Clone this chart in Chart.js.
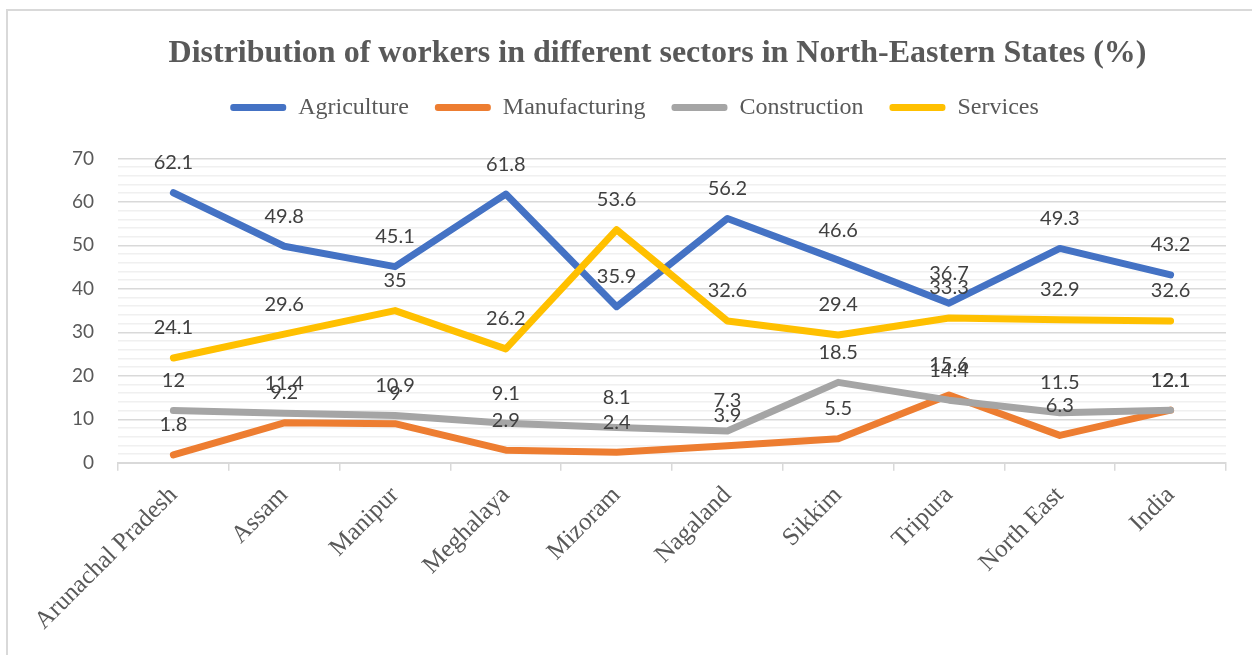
<!DOCTYPE html>
<html>
<head>
<meta charset="utf-8">
<title>Distribution of workers in North-Eastern States</title>
<script src="https://cdn.jsdelivr.net/npm/chart.js@4.4.1/dist/chart.umd.min.js"></script>
<style>
    html, body { margin: 0; padding: 0; background: #ffffff; overflow: hidden; }
    canvas { display: block; }
</style>
</head>
<body>
<canvas id="sectorChart" width="1252" height="655"></canvas>
<script>
        // Categories and series values
        const states = ['Arunachal Pradesh', 'Assam', 'Manipur', 'Meghalaya', 'Mizoram', 'Nagaland', 'Sikkim', 'Tripura', 'North East', 'India'];
        const agriculture = [62.1, 49.8, 45.1, 61.8, 35.9, 56.2, 46.6, 36.7, 49.3, 43.2];
        const manufacturing = [1.8, 9.2, 9, 2.9, 2.4, 3.9, 5.5, 15.6, 6.3, 12.1];
        const construction = [12, 11.4, 10.9, 9.1, 8.1, 7.3, 18.5, 14.4, 11.5, 12.1];
        const services = [24.1, 29.6, 35, 26.2, 53.6, 32.6, 29.4, 33.3, 32.9, 32.6];

        const yMin = 0;
        const yMax = 70;
        const yStep = 2;
        const yLabelStep = 10;

        const serif = "'Liberation Serif', 'Times New Roman', serif";
        const sans = "Lato, 'Noto Sans', sans-serif";

        // shift a box's drawing sideways without touching the layout
        function nudge(box, dx) {
            const draw = box.draw.bind(box);
            box.draw = function() {
                this.ctx.save();
                this.ctx.translate(dx, 0);
                draw();
                this.ctx.restore();
            };
        }

        // Outer frame like the Office chart border
        const framePlugin = {
            id: 'frame',
            beforeInit(chart) {
                const legend = chart.legend;
                if (legend) {
                    // leave more room under the legend
                    const fit = legend.fit.bind(legend);
                    legend.fit = function() {
                        fit();
                        this.height += 29;
                    };
                    nudge(legend, 18);
                }
                if (chart.titleBlock) nudge(chart.titleBlock, 41);
            },
            beforeDraw(chart) {
                const c = chart.ctx;
                c.save();
                c.strokeStyle = '#d9d9d9';
                c.lineWidth = 2;
                c.beginPath();
                c.moveTo(7, 656);
                c.lineTo(7, 10);
                c.lineTo(1253, 10);
                c.stroke();
                c.restore();
            }
        };

        // Value labels above every point
        const valueLabels = {
            id: 'valueLabels',
            afterDatasetsDraw(chart) {
                const c = chart.ctx;
                c.save();
                c.font = '20px ' + sans;
                c.fillStyle = '#404040';
                c.textAlign = 'center';
                c.textBaseline = 'middle';
                chart.data.datasets.forEach(function(ds, i) {
                    const meta = chart.getDatasetMeta(i);
                    meta.data.forEach(function(pt, j) {
                        c.fillText(String(ds.data[j]), pt.x, pt.y - 30);
                    });
                });
                c.restore();
            }
        };

        function series(label, data, color, order) {
            return {
                label: label,
                data: data,
                borderColor: color,
                backgroundColor: color,
                borderWidth: 7,
                borderCapStyle: 'round',
                borderJoinStyle: 'round',
                pointRadius: 0,
                pointHoverRadius: 0,
                tension: 0,
                order: order
            };
        }

        const ctx = document.getElementById('sectorChart').getContext('2d');
        const sectorChart = new Chart(ctx, {
            type: 'line',
            data: {
                labels: states,
                datasets: [
                    series('Agriculture', agriculture, '#4472c4', 3),
                    series('Manufacturing', manufacturing, '#ed7d31', 2),
                    series('Construction', construction, '#a5a5a5', 1),
                    series('Services', services, '#ffc000', 0)
                ]
            },
            options: {
                responsive: false,
                animation: false,
                devicePixelRatio: 1,
                layout: {
                    padding: { left: 7, right: 26, top: 0, bottom: 9 }
                },
                plugins: {
                    tooltip: { enabled: false },
                    title: {
                        display: true,
                        text: 'Distribution of workers in different sectors in North-Eastern States (%)',
                        color: '#595959',
                        font: { family: serif, size: 32, weight: 'bold' },
                        padding: { top: 35, bottom: -4 }
                    },
                    legend: {
                        position: 'top',
                        labels: {
                            color: '#595959',
                            font: { family: serif, size: 24 },
                            boxWidth: 56,
                            boxHeight: 7,
                            useBorderRadius: true,
                            borderRadius: 3,
                            padding: 26,
                            generateLabels: function(chart) {
                                const items = Chart.defaults.plugins.legend.labels.generateLabels(chart);
                                items.forEach(function(it) { it.lineWidth = 0; });
                                return items.sort(function(a, b) { return a.datasetIndex - b.datasetIndex; });
                            }
                        }
                    }
                },
                scales: {
                    x: {
                        offset: true,
                        grid: {
                            offset: true,
                            drawOnChartArea: false,
                            color: '#d9d9d9',
                            lineWidth: 1.5,
                            tickLength: 8
                        },
                        border: { color: '#d9d9d9', width: 2 },
                        ticks: {
                            color: '#595959',
                            font: { family: serif, size: 25 },
                            minRotation: 45,
                            maxRotation: 45,
                            padding: 10,
                            autoSkip: false
                        }
                    },
                    y: {
                        min: yMin,
                        max: yMax,
                        border: { display: false },
                        grid: {
                            drawTicks: false,
                            lineWidth: 1.5,
                            color: function(c) {
                                return c.tick && c.tick.value % yLabelStep === 0 ? '#d9d9d9' : '#f0f0f0';
                            }
                        },
                        ticks: {
                            stepSize: yStep,
                            autoSkip: false,
                            padding: 24,
                            color: '#595959',
                            font: { family: sans, size: 19 },
                            callback: function(value) {
                                return value % yLabelStep === 0 ? value : '';
                            }
                        },
                        afterFit: function(scale) {
                            scale.width = 111;
                        }
                    }
                }
            },
            plugins: [framePlugin, valueLabels]
        });
</script>
</body>
</html>
